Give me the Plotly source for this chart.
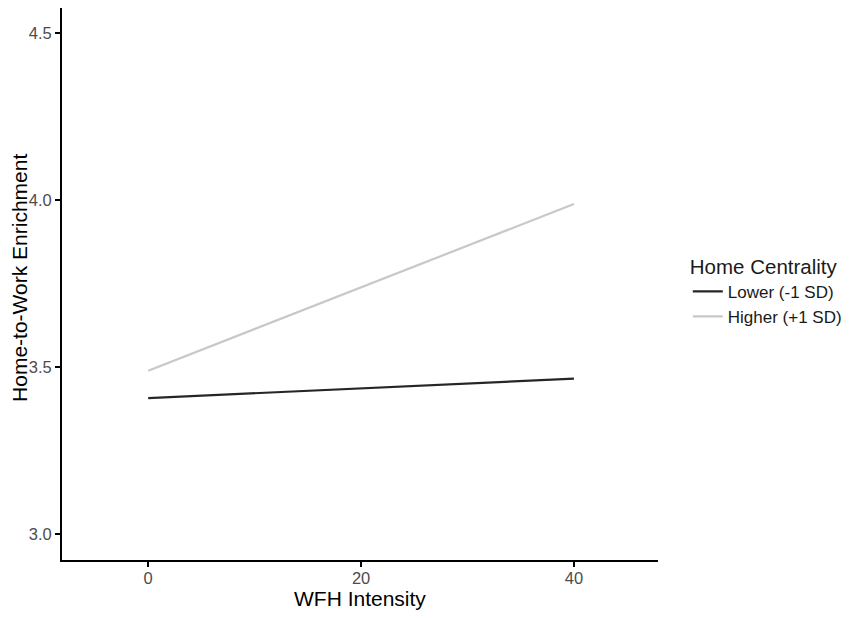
import plotly.graph_objects as go

wfh = [0, 40]
lower = [3.407, 3.465]
higher = [3.489, 3.988]
series_names = ['Lower (-1 SD)', 'Higher (+1 SD)']
series_colors = ['#262626', '#c8c8c8']

fig = go.Figure()
for name, vals, col in zip(series_names, [lower, higher], series_colors):
    fig.add_trace(go.Scatter(x=wfh, y=vals, mode='lines', name=name,
                             line=dict(color=col, width=2.2)))

# the page body adds an 8px margin, so the figure is sized 8px smaller
fig.update_layout(
    width=843, height=611,
    margin=dict(l=54, r=193, t=0, b=59, autoexpand=False),
    plot_bgcolor='white', paper_bgcolor='white',
    font=dict(family='Liberation Sans, Arial, sans-serif', color='black'),
    legend=dict(
        title=dict(text='Home Centrality', font=dict(size=20.5)),
        font=dict(size=17, color='#1a1a1a'),
        x=1.05, xanchor='left', y=0.488, yanchor='middle',
        itemwidth=30, tracegroupgap=0,
    ),
)
fig.update_xaxes(
    range=[-8.1, 47.9], tickvals=[0, 20, 40],
    showgrid=False, zeroline=False, automargin=False,
    showline=True, linecolor='black', linewidth=2,
    ticks='outside', ticklen=5, tickcolor='black', tickwidth=1.5,
    ticklabelstandoff=-3,
    tickfont=dict(size=16.5, color='#4d4d4d'),
)
fig.update_yaxes(
    range=[2.922, 4.575], tickvals=[3.0, 3.5, 4.0, 4.5],
    tickformat='.1f',
    showgrid=False, zeroline=False, automargin=False,
    showline=True, linecolor='black', linewidth=2,
    ticks='outside', ticklen=5, tickcolor='black', tickwidth=1.5,
    tickfont=dict(size=16.5, color='#4d4d4d'),
)

# axis titles as annotations so they sit clear of the tick labels
fig.add_annotation(text='WFH Intensity', xref='paper', yref='paper',
                   x=0.5, y=-0.07, xanchor='center', yanchor='middle',
                   showarrow=False, font=dict(size=21))
fig.add_annotation(text='Home-to-Work Enrichment', xref='paper', yref='paper',
                   x=-0.0705, y=0.511, xanchor='center', yanchor='middle',
                   textangle=-90, showarrow=False, font=dict(size=21))

fig.write_html("out.html")
